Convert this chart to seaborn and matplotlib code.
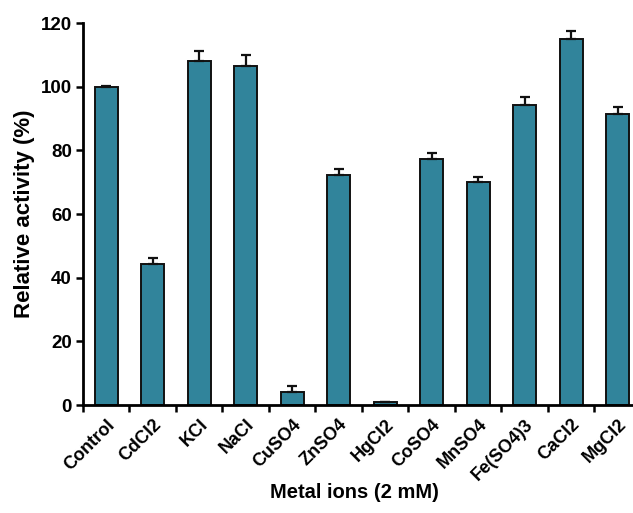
import numpy as np
import pandas as pd
import matplotlib
matplotlib.use("Agg")
import matplotlib.pyplot as plt
import matplotlib.transforms as mtransforms
import seaborn as sns

ions = ["Control", "CdCl2", "KCl", "NaCl", "CuSO4", "ZnSO4", "HgCl2",
        "CoSO4", "MnSO4", "Fe(SO4)3", "CaCl2", "MgCl2"]
activity = [100.0, 44.2, 108.0, 106.5, 4.1, 72.3, 0.8, 77.2, 70.0, 94.1, 115.0, 91.4]
err = [0.3, 1.9, 3.1, 3.5, 1.9, 2.0, 0.2, 2.1, 1.5, 2.6, 2.5, 2.2]
y_ticks = [0, 20, 40, 60, 80, 100, 120]

sns.set_theme(style="ticks")
plt.rcParams["font.family"] = ["Liberation Sans", "DejaVu Sans"]
plt.rcParams["font.weight"] = "bold"
plt.rcParams["text.color"] = "black"
plt.rcParams["axes.labelcolor"] = "black"
plt.rcParams["xtick.color"] = "black"
plt.rcParams["ytick.color"] = "black"

df = pd.DataFrame({"ion": ions, "activity": activity})

fig = plt.figure(figsize=(6.33, 5.13), dpi=100)
ax = fig.add_axes([0.1311, 0.2105, 0.8815, 0.7446])

bar_color = "#31849B"
sns.barplot(data=df, x="ion", y="activity", color=bar_color, saturation=1,
            edgecolor="#111111", linewidth=1.4, width=0.5, errorbar=None, ax=ax)

x = np.arange(len(ions))
ax.errorbar(x, activity, yerr=[np.zeros(len(err)), err], fmt="none",
            ecolor="#111111", elinewidth=1.6, capsize=3.6, capthick=1.6, zorder=3)

ax.set_xlim(-0.5, len(ions) - 0.5)
ax.set_ylim(0, 120)
ax.set_yticks(y_ticks)
ax.set_yticklabels([str(v) for v in y_ticks], fontsize=13.5, fontweight="bold")

ax.set_xticks(x)
ax.set_xticklabels(ions, rotation=45, ha="right", rotation_mode="anchor",
                   fontsize=13, fontweight="bold")
offset = mtransforms.ScaledTranslation(4 / 72, 0, fig.dpi_scale_trans)
for lab in ax.get_xticklabels():
    lab.set_transform(lab.get_transform() + offset)
ax.tick_params(axis="x", which="major", length=0, pad=8)
ax.set_xticks(np.arange(-0.5, len(ions), 1), minor=True)
ax.tick_params(axis="x", which="minor", length=5, width=1.8, color="black")
ax.tick_params(axis="y", which="major", length=5, width=1.8, color="black", pad=3)

for side in ["left", "bottom"]:
    ax.spines[side].set_linewidth(2.0)
    ax.spines[side].set_color("black")
sns.despine(ax=ax)

ax.set_xlabel("Metal ions (2 mM)", fontsize=14.5, fontweight="bold")
ax.set_ylabel("Relative activity (%)", fontsize=16, fontweight="bold")
ax.xaxis.set_label_coords(0.487, -0.205)
ax.yaxis.set_label_coords(-0.086, 0.5)

fig.savefig("out.png", dpi=100)
